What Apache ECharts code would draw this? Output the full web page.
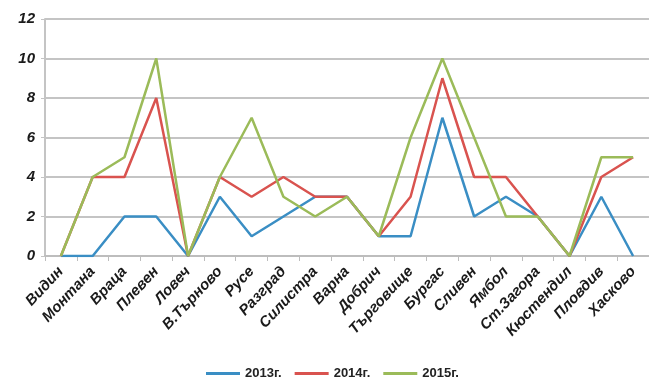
<!DOCTYPE html>
<html>
<head>
<meta charset="utf-8">
<script src="https://cdn.jsdelivr.net/npm/echarts@6/dist/echarts.min.js"></script>
<style>
  html, body { margin: 0; padding: 0; background: #ffffff; }
  #chart { width: 649px; height: 383px; }
</style>
</head>
<body>
<div id="chart"></div>
<script>
// Regions along the x axis
const regions = ['Видин', 'Монтана', 'Враца', 'Плевен', 'Ловеч', 'В.Търново', 'Русе', 'Разград',
  'Силистра', 'Варна', 'Добрич', 'Търговище', 'Бургас', 'Сливен', 'Ямбол', 'Ст.Загора',
  'Кюстендил', 'Пловдив', 'Хасково'];

// Yearly counts per region
const values2013 = [0, 0, 2, 2, 0, 3, 1, 2, 3, 3, 1, 1, 7, 2, 3, 2, 0, 3, 0];
const values2014 = [0, 4, 4, 8, 0, 4, 3, 4, 3, 3, 1, 3, 9, 4, 4, 2, 0, 4, 5];
const values2015 = [0, 4, 5, 10, 0, 4, 7, 3, 2, 3, 1, 6, 10, 6, 2, 2, 0, 5, 5];

const seriesNames = ['2013г.', '2014г.', '2015г.'];
const seriesColors = ['#3a8ec4', '#d9534f', '#9bbb59'];
const seriesData = [values2013, values2014, values2015];

const chart = echarts.init(document.getElementById('chart'));

const labelFont = {
  fontFamily: 'Liberation Sans',
  fontWeight: 'bold',
  fontStyle: 'italic',
  color: '#1a1a1a'
};

chart.setOption({
  animation: false,
  backgroundColor: '#ffffff',
  // plot area runs a little past the right edge of the canvas
  grid: { left: 45, top: 19, width: 608, height: 237 },
  legend: {
    bottom: 3,
    left: 206,
    padding: 0,
    icon: 'rect',
    itemWidth: 34,
    itemHeight: 3,
    itemGap: 13,
    textStyle: { fontFamily: 'Liberation Sans', fontWeight: 'bold', fontSize: 13, color: '#222' },
    data: seriesNames
  },
  xAxis: {
    type: 'category',
    data: regions,
    boundaryGap: true,
    axisLine: { lineStyle: { color: '#bdbdbd', width: 2 } },
    axisTick: { show: true, length: 5, lineStyle: { color: '#bdbdbd', width: 1 } },
    axisLabel: Object.assign({ rotate: 47, fontSize: 15, margin: 13, interval: 0 }, labelFont)
  },
  yAxis: {
    type: 'value',
    min: 0,
    max: 12,
    interval: 2,
    axisLine: { show: true, lineStyle: { color: '#c4c4c4', width: 2 } },
    axisTick: { show: true, length: 4, lineStyle: { color: '#c4c4c4' } },
    splitLine: { lineStyle: { color: '#c4c4c4', width: 2 } },
    axisLabel: Object.assign({ fontSize: 15, margin: 10 }, labelFont)
  },
  series: seriesNames.map((name, i) => ({
    name: name,
    type: 'line',
    data: seriesData[i],
    symbol: 'none',
    color: seriesColors[i],
    lineStyle: { width: 2.5, color: seriesColors[i] }
  }))
});
</script>
</body>
</html>
